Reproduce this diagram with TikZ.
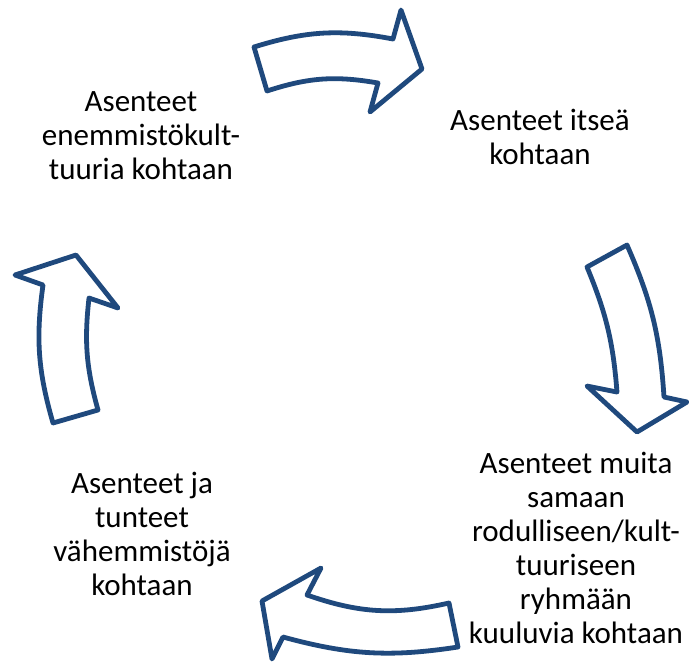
\documentclass[tikz,border=0pt]{standalone}
\usepackage{fontspec}
\setmainfont{Carlito}
\usetikzlibrary{positioning}
\definecolor{cycleblue}{RGB}{31,73,125}

\begin{document}
\begin{tikzpicture}[x=1pt,y=-1pt,
  cycletext/.style={align=center,font=\fontsize{31}{34}\selectfont,inner sep=0pt},
  cyclearrow/.style={draw=cycleblue,line width=4.8pt,fill=white,line join=round}]
\useasboundingbox (0,0) rectangle (689,662);
% the four texts of the cycle
\node[cycletext] (self) at (540,137) {Asenteet itseä\\kohtaan};
\node[cycletext] (group) at (576,548) {Asenteet muita\\samaan\\rodulliseen/kult-\\tuuriseen\\ryhmään\\kuuluvia kohtaan};
\node[cycletext] (minority) at (142,534) {Asenteet ja\\tunteet\\vähemmistöjä\\kohtaan};
\node[cycletext] (majority) at (141,136) {Asenteet\\enemmistökult-\\tuuria kohtaan};

% curved block arrows, clockwise from the top
\draw[cyclearrow] (254,47) to[bend left=14] (393,39) -- (401,10) -- (422,69)
  -- (370,112) -- (378,83) to[bend right=14] (267,91) -- cycle;
\draw[cyclearrow] (627,245) to[bend left=10] (664,397) -- (687,402) -- (637,432)
  -- (587,386) -- (617,392) to[bend right=9] (587,267) -- cycle;
\draw[cyclearrow] (449,603) to[bend left=16] (307,595) -- (321,568) -- (262,601)
  -- (272,659) -- (283,637) to[bend right=12] (458,647) -- cycle;
\draw[cyclearrow] (98,410) to[bend left=11] (89,298) -- (118,308) -- (76,255)
  -- (15,275) -- (43,285) to[bend right=12] (53,423) -- cycle;
\end{tikzpicture}
\end{document}
